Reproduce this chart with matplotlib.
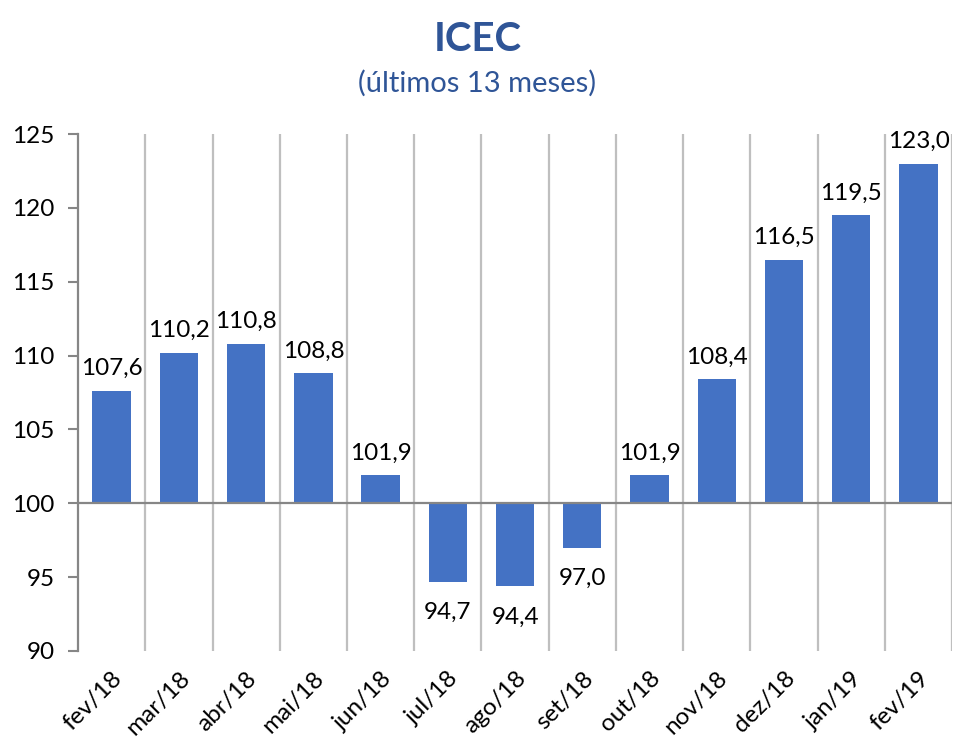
import matplotlib.pyplot as plt

# dados do gráfico
meses = ['fev/18', 'mar/18', 'abr/18', 'mai/18', 'jun/18', 'jul/18', 'ago/18',
         'set/18', 'out/18', 'nov/18', 'dez/18', 'jan/19', 'fev/19']
icec = [107.6, 110.2, 110.8, 108.8, 101.9, 94.7, 94.4, 97.0, 101.9, 108.4,
        116.5, 119.5, 123.0]
base = 100
y_ticks = [90, 95, 100, 105, 110, 115, 120, 125]

plt.rcParams['font.family'] = ['Lato', 'DejaVu Sans']

fig = plt.figure(figsize=(9.55, 7.4), dpi=100, facecolor='white')
ax = fig.add_axes([0.0817, 0.1203, 0.9153, 0.6986])

x = list(range(len(meses)))
alturas = [v - base for v in icec]
ax.bar(x, alturas, bottom=base, width=0.57, color='#4472C4', zorder=3)

# rótulos dos valores
for xi, v in zip(x, icec):
    txt = ('%.1f' % v).replace('.', ',')
    if v >= base:
        ax.text(xi, v + 0.8, txt, ha='center', va='bottom', fontsize=17.5, color='black')
    else:
        ax.text(xi, v - 1.4, txt, ha='center', va='top', fontsize=17.5, color='black')

ax.set_xlim(-0.5, len(meses) - 0.5)
ax.set_ylim(90, 125)
ax.set_yticks(y_ticks)
ax.set_yticklabels([str(t) for t in y_ticks], fontsize=17.5)

# grades verticais entre as categorias
for b in [i + 0.5 for i in range(len(meses))]:
    ax.axvline(b, color='#BFBFBF', lw=1.6, zorder=1)

ax.axhline(base, color='#868686', lw=1.6, zorder=4)

ax.set_xticks(x)
ax.set_xticklabels(meses, rotation=45, ha='right', rotation_mode='anchor', fontsize=17.5)
ax.tick_params(axis='x', length=0, pad=12)
ax.tick_params(axis='y', length=7, width=1.5, color='#868686', pad=10)

for s in ['top', 'right', 'bottom']:
    ax.spines[s].set_visible(False)
ax.spines['left'].set_color('#868686')
ax.spines['left'].set_linewidth(1.6)

fig.text(0.5, 0.947, 'ICEC', ha='center', va='center', fontsize=29,
         fontweight='bold', color='#2F5597')
fig.text(0.5, 0.888, '(últimos 13 meses)', ha='center', va='center', fontsize=21,
         color='#2F5597')

fig.savefig('out.png', dpi=100, facecolor='white')
